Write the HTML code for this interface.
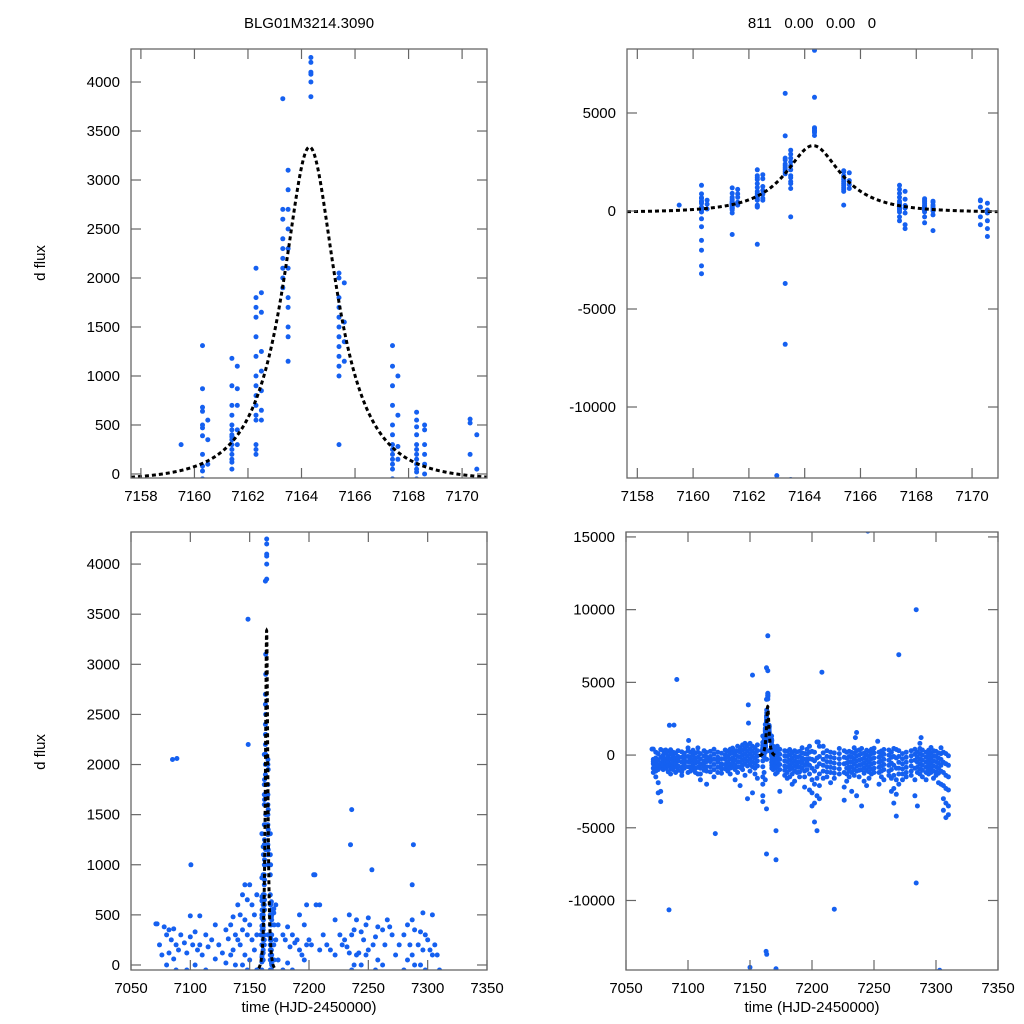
<!DOCTYPE html>
<html><head><meta charset="utf-8"><style>
html,body{margin:0;padding:0;background:#fff;width:1024px;height:1024px;overflow:hidden;}
svg{display:block;font-family:"Liberation Sans",sans-serif;}
</style></head><body>
<svg id="fig" width="1024" height="1024" viewBox="0 0 1024 1024" xmlns="http://www.w3.org/2000/svg">
<rect width="1024" height="1024" fill="#fff"/>
<text x="309" y="28" font-size="15" text-anchor="middle">BLG01M3214.3090</text>
<text x="812" y="28" font-size="15" text-anchor="middle" xml:space="preserve" style="white-space:pre">811   0.00   0.00   0</text>
<text transform="translate(45,263) rotate(-90)" font-size="15" text-anchor="middle">d flux</text>
<text transform="translate(45,752) rotate(-90)" font-size="15" text-anchor="middle">d flux</text>
<text x="309" y="1012" font-size="15" text-anchor="middle">time (HJD-2450000)</text>
<text x="812" y="1012" font-size="15" text-anchor="middle">time (HJD-2450000)</text>
</svg>
<script>
// ---- event-window photometry (times and grouped fluxes) ----
const evT = [7159.5, 7160.3, 7160.5, 7161.4, 7161.6, 7162.3, 7162.5, 7163.3, 7163.5, 7164.35, 7165.4, 7165.6, 7167.4, 7167.6, 7168.3, 7168.6, 7170.3, 7170.55];
const evF = [
 [300],
 [1310,870,680,640,470,390,80,30,-50,-400,-800,-1500,-2000,-2800,-3200,500,200],
 [550,350,100],
 [1180,900,700,600,500,450,400,380,350,300,250,200,150,120,50,-100,-1200],
 [1100,870,700,450,300],
 [2100,1800,1700,1600,1400,1200,1000,900,800,700,600,550,300,250,200,-1700],
 [1850,1650,1250,1050,850,650,550],
 [3830,2700,2600,2400,2300,2200,2100,2000,1900,6000,-3700,-6800],
 [3100,2900,2700,2500,2300,2100,1800,1700,1500,1400,1150,-300,-13700],
 [4250,4200,4100,4080,4000,3850,8200,5800],
 [2050,2000,1800,1700,1600,1500,1400,1300,1200,1100,1000,300],
 [1950,1550,1350,1150],
 [1310,1100,900,700,500,400,300,250,200,150,100,50,-50,-300,-500],
 [1000,600,280,150,-100,-700,-900],
 [630,550,480,400,300,250,200,150,100,50,20,-50,-300,-600],
 [500,450,300,200,100,0,-200,-1000],
 [560,520,200,-300,-700],
 [400,-100,-500,-900,-1300,50]
];
// ---- season baseline nights ----
const nightT = [7072,7074,7076,7078,7080,7082,7084,7086,7088,7090,7092,7095,7097,7100,7102,7104,7106,7108,7110,7113,7115,7118,7121,7124,7127,7130,7132,7134,7136,7138,7140,7142,7144,7146,7148,7150,7152,7154,7156,7172,7174,7178,7180,7182,7184,7186,7188,7190,7192,7194,7196,7198,7200,7202,7204,7206,7209,7212,7215,7218,7222,7226,7228,7230,7232,7234,7236,7238,7240,7242,7244,7246,7248,7250,7254,7256,7258,7262,7264,7266,7268,7270,7273,7276,7280,7283,7285,7287,7289,7292,7294,7296,7298,7300,7302,7304,7306,7308,7310];
const nightF = [
 [410,-300,-600,-900,-1200,-450],
 [200,-200,-500,-800,-1100,-1500],
 [100,-350,-700,-1000,-1900,-2600],
 [380,-150,-550,-850,-2500,-3200],
 [300,0,-400,-700,-1000,-300],
 [350,120,-250,-600,-900,-500],
 [250,-100,-450,-750,-1150,-200],
 [360,60,-300,-650,-950,-1300],
 [200,-50,-350,-700,-1000,-500],
 [150,-200,-500,-800,-1200,-600],
 [300,-100,-400,-750,-1050,-250],
 [220,-150,-500,-850,-1150,-1400],
 [120,-250,-600,-900,-350,-50],
 [490,280,-100,-450,-800,-1200],
 [200,-150,-500,-850,-1100,-300],
 [330,0,-350,-700,-1000,-600],
 [150,-200,-550,-900,-1200,-400],
 [490,200,-150,-500,-850,-1300],
 [100,-250,-600,-900,-1300,-1700],
 [300,-50,-400,-750,-1050,-500],
 [180,-150,-450,-800,-1100,-2000],
 [250,-100,-450,-800,-1150,-300],
 [400,60,-300,-650,-1000,-1500],
 [200,-150,-500,-850,-1200,-400],
 [120,-250,-600,-950,-1250,-700],
 [350,20,-300,-650,-950,-200],
 [260,-100,-450,-800,-1100,-500],
 [400,100,-250,-600,-900,-1300],
 [480,150,-200,-550,-850,-300],
 [300,0,-350,-700,-1000,-1700],
 [600,250,-100,-450,-800,-1200],
 [500,200,-150,-500,-850,-2100],
 [700,350,0,-350,-700,-1000],
 [800,450,100,-250,-600,-1400],
 [650,300,-50,-400,-750,-3000],
 [800,400,50,-300,-650,-1100],
 [600,250,-100,-450,-800,-2600],
 [500,150,-200,-550,-900,-1300],
 [700,300,-50,-400,-750,-1600],
 [600,250,-100,-450,-800,-1200],
 [400,50,-300,-650,-1000,-2500],
 [300,-50,-400,-750,-1050,-1400],
 [250,-100,-450,-800,-1200,-1600],
 [380,20,-350,-700,-1000,-1500],
 [180,-200,-550,-900,-1300,-2000],
 [300,-50,-400,-750,-1100,-1800],
 [220,-150,-500,-850,-1200,-600],
 [250,-100,-450,-800,-1150,-1500],
 [500,150,-200,-550,-900,-300],
 [100,-300,-700,-1100,-1500,-2200],
 [400,50,-300,-650,-1000,-500],
 [600,200,-250,-700,-1300,-2400],
 [250,-300,-900,-1700,-2600,-3500],
 [200,-400,-1100,-2000,-3300,-4600],
 [900,-200,-800,-1600,-2800,-5200],
 [600,-100,-600,-1300,-2100,-3000],
 [600,150,-300,-700,-1100,-1600],
 [300,-100,-450,-800,-1150,-1500],
 [200,-150,-500,-850,-1200,-1900],
 [150,-200,-550,-900,-1250,-1600],
 [450,100,-250,-600,-950,-1300],
 [300,-150,-600,-1200,-2200,-3100],
 [200,-200,-550,-900,-1300,-1800],
 [250,-100,-450,-800,-1100,-1500],
 [180,-150,-500,-850,-1200,-2500],
 [500,120,-250,-600,-1000,-1400],
 [300,-50,-400,-750,-1100,-2800],
 [350,0,-350,-700,-1050,-1500],
 [450,100,-300,-650,-1000,-3500],
 [120,-200,-550,-900,-1250,-1800],
 [330,0,-350,-700,-1050,-2100],
 [250,-100,-450,-800,-1150,-1600],
 [400,100,-250,-600,-950,-1300],
 [470,150,-200,-550,-900,-1200],
 [200,-150,-500,-850,-1200,-2000],
 [280,-50,-400,-750,-1100,-1500],
 [380,50,-300,-650,-1000,-1700],
 [350,0,-350,-700,-1100,-1400],
 [200,-150,-550,-1000,-1600,-2500],
 [450,-100,-700,-1400,-2300,-3300],
 [380,-200,-900,-1700,-2700,-4200],
 [300,-100,-500,-900,-1300,-2000],
 [100,-250,-600,-950,-1300,-1700],
 [200,-150,-500,-850,-1200,-1500],
 [300,-50,-400,-750,-1100,-1400],
 [400,50,-350,-900,-1700,-2800],
 [200,-150,-500,-850,-1200,-3500],
 [450,100,-250,-600,-950,-1300],
 [350,0,-350,-700,-1050,-1500],
 [200,-150,-500,-850,-1200,-1700],
 [330,0,-350,-700,-1000,-1300],
 [520,150,-200,-550,-900,-1200],
 [300,-50,-400,-750,-1100,-1600],
 [250,-100,-450,-800,-1150,-1400],
 [150,-200,-550,-900,-1250,-1900],
 [500,100,-300,-700,-1100,-2000],
 [200,-500,-1200,-2100,-3000,-3800],
 [100,-600,-1400,-2300,-3300,-4300],
 [-50,-700,-1500,-2400,-3500,-4100]
];
// ---- isolated outliers ----
const outT = [7071,7085,7088.7,7091,7084.7,7100.5,7122,7148.6,7148.8,7152,7150,7163,7171,7171,7171,7208,7218,7236,7235,7253,7205,7245,7270,7284,7284,7287,7288,7303];
const outF = [410,2050,2060,5200,-10650,1000,-5400,3450,2200,5500,-14600,-13500,-7200,-5200,-14700,5700,-10600,1550,1200,950,900,15400,6900,10000,-8800,800,1200,-14800];
// ---- model curve parameters ----
const modelT0 = 7164.3, modelTE = 2.08, modelU0 = 0.5, modelFs = 2880, modelBase = -70;
const modelRange = [7157.6, 7171.0];

const svg = document.getElementById('fig');
const NS = 'http://www.w3.org/2000/svg';
function mk(tag, attrs, parent){ const e=document.createElementNS(NS,tag); for(const k in attrs) e.setAttribute(k,attrs[k]); (parent||svg).appendChild(e); return e; }
function model(t){ const d=(t-modelT0)/modelTE; const u=Math.sqrt(modelU0*modelU0+d*d); const A=(u*u+2)/(u*Math.sqrt(u*u+4)); return modelFs*(A-1)+modelBase; }

function allPoints(){
  const pts=[];
  evT.forEach((t,i)=>evF[i].forEach(v=>pts.push([t,v])));
  nightT.forEach((t,i)=>nightF[i].forEach(v=>pts.push([t,v])));
  outT.forEach((t,i)=>pts.push([t,outF[i]]));
  return pts;
}

function panel(id, box, xd, yd, xticks, yticks){
  const [L,T,R,B]=box;
  const sx=v=>L+(v-xd[0])/(xd[1]-xd[0])*(R-L);
  const sy=v=>B-(v-yd[0])/(yd[1]-yd[0])*(B-T);
  const g=mk('g',{});
  
  
  const cp=mk('clipPath',{id:'clip-'+id},g);
  mk('rect',{x:L,y:T,width:R-L,height:B-T},cp);
  const pg=mk('g',{'clip-path':'url(#clip-'+id+')'},g);
  
  
  allPoints().forEach(p=>{
    if(p[0]<xd[0]-1||p[0]>xd[1]+1) return;
    const c=mk('circle',{cx:sx(p[0]).toFixed(1),cy:sy(p[1]).toFixed(1),r:2.5,fill:'#1560f0'},pg);
    
    
  });
  let d='';
  const a=Math.max(xd[0],modelRange[0]), b=Math.min(xd[1],modelRange[1]);
  const step=(b-a)/1500;
  for(let t=a;t<=b;t+=step){ d+=(d?'L':'M')+sx(t).toFixed(2)+','+sy(model(t)).toFixed(2); }
  const path=mk('path',{d:d,fill:'none',stroke:'#000','stroke-width':3,'stroke-dasharray':'4,3'},pg);
  
  
  const fr=mk('rect',{x:L,y:T,width:R-L,height:B-T,fill:'none',stroke:'#666','stroke-width':1.3},g);
  
  
  xticks.forEach(v=>{
    const x=sx(v);
    mk('line',{x1:x,x2:x,y1:B,y2:B-10,stroke:'#666','stroke-width':1.2},g);
    mk('line',{x1:x,x2:x,y1:T,y2:T+10,stroke:'#666','stroke-width':1.2},g);
    const tx=mk('text',{x:x,y:B+23,'font-size':15,'text-anchor':'middle'},g);
    tx.textContent=v;
    
    
  });
  yticks.forEach(v=>{
    const y=sy(v);
    mk('line',{x1:L,x2:L+10,y1:y,y2:y,stroke:'#666','stroke-width':1.2},g);
    mk('line',{x1:R,x2:R-10,y1:y,y2:y,stroke:'#666','stroke-width':1.2},g);
    const tx=mk('text',{x:L-11,y:y+5,'font-size':15,'text-anchor':'end'},g);
    tx.textContent=v;
    
    
  });
}
const zoomTicks=[7158,7160,7162,7164,7166,7168,7170];
const seasonTicks=[7050,7100,7150,7200,7250,7300,7350];
panel('panel-top-left',[131,49,487,478],[7157.63,7170.93],[-41,4337],zoomTicks,[0,500,1000,1500,2000,2500,3000,3500,4000]);
panel('panel-top-right',[627,49,998,478],[7157.63,7170.93],[-13622,8265],zoomTicks,[-10000,-5000,0,5000]);
panel('panel-bottom-left',[131,532,487,970],[7050,7350],[-50,4320],seasonTicks,[0,500,1000,1500,2000,2500,3000,3500,4000]);
panel('panel-bottom-right',[626,532,998,970],[7050,7350],[-14780,15340],seasonTicks,[-10000,-5000,0,5000,10000,15000]);
</script>
</body></html>
